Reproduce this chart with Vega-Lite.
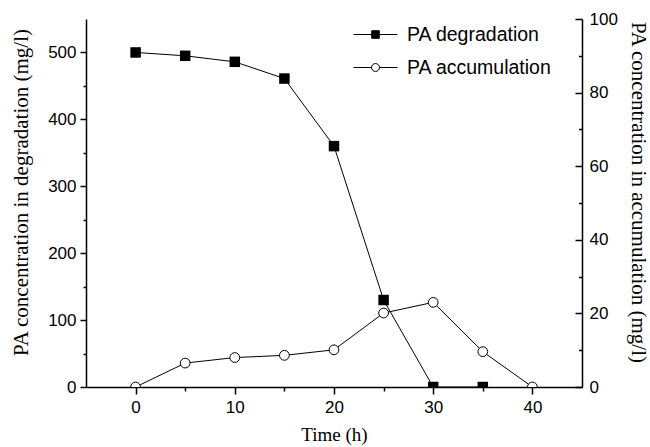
{
  "$schema": "https://vega.github.io/schema/vega-lite/v6.json",
  "width": 496,
  "height": 368,
  "autosize": {"type": "none"},
  "padding": {"left": 86, "top": 19, "right": 68, "bottom": 60},
  "background": "white",
  "config": {
    "view": {"stroke": null},
    "axis": {
      "grid": false,
      "domainColor": "black",
      "tickColor": "black",
      "labelColor": "black",
      "titleColor": "black",
      "labelFont": "Liberation Sans",
      "labelFontSize": 17,
      "titleFont": "Liberation Serif",
      "titleFontWeight": "normal",
      "domainWidth": 1.5,
      "tickWidth": 1.5
    }
  },
  "datasets": {
    "all": [
      {"series": "PA degradation", "time": 0, "value": 500},
      {"series": "PA degradation", "time": 5, "value": 495},
      {"series": "PA degradation", "time": 10, "value": 486},
      {"series": "PA degradation", "time": 15, "value": 461},
      {"series": "PA degradation", "time": 20, "value": 360},
      {"series": "PA degradation", "time": 25, "value": 130},
      {"series": "PA degradation", "time": 30, "value": 0},
      {"series": "PA degradation", "time": 35, "value": 0},
      {"series": "PA accumulation", "time": 0, "value": 0},
      {"series": "PA accumulation", "time": 5, "value": 6.5},
      {"series": "PA accumulation", "time": 10, "value": 8.0},
      {"series": "PA accumulation", "time": 15, "value": 8.6},
      {"series": "PA accumulation", "time": 20, "value": 10.1},
      {"series": "PA accumulation", "time": 25, "value": 20.1},
      {"series": "PA accumulation", "time": 30, "value": 23},
      {"series": "PA accumulation", "time": 35, "value": 9.6},
      {"series": "PA accumulation", "time": 40, "value": 0}
    ]
  },
  "data": {"name": "all"},
  "layer": [
    {
      "transform": [{"filter": "datum.series === 'PA degradation'"}],
      "encoding": {
        "x": {
          "field": "time", "type": "quantitative",
          "scale": {"domain": [-5, 45], "nice": false, "zero": false},
          "axis": {
            "orient": "bottom", "values": [0, 10, 20, 30, 40], "tickSize": 7, "labelPadding": 5,
            "title": "Time (h)", "titleFontSize": 19, "titlePadding": 10
          }
        },
        "y": {
          "field": "value", "type": "quantitative",
          "scale": {"domain": [0, 550], "nice": false},
          "axis": {
            "orient": "left", "values": [0, 100, 200, 300, 400, 500], "tickSize": 6, "labelPadding": 4,
            "title": "PA concentration in degradation (mg/l)", "titleFontSize": 21,
            "titleX": -65, "titleY": 173, "titleAngle": -90, "titleBaseline": "middle", "titleAlign": "center"
          }
        }
      },
      "layer": [
        {"mark": {"type": "line", "color": "black", "strokeWidth": 1, "clip": true}},
        {"mark": {"type": "point", "shape": "square", "filled": true, "color": "black", "opacity": 1, "size": 110, "clip": true}}
      ]
    },
    {
      "transform": [{"filter": "datum.series === 'PA accumulation'"}],
      "encoding": {
        "x": {"field": "time", "type": "quantitative", "axis": null},
        "y": {
          "field": "value", "type": "quantitative",
          "scale": {"domain": [0, 100], "nice": false},
          "axis": {
            "orient": "right", "values": [0, 20, 40, 60, 80, 100], "ticks": false, "labelPadding": 7,
            "title": "PA concentration in accumulation (mg/l)", "titleFontSize": 21,
            "titleX": 55, "titleY": 173, "titleAngle": 90, "titleBaseline": "middle", "titleAlign": "center"
          }
        }
      },
      "layer": [
        {"mark": {"type": "line", "color": "black", "strokeWidth": 1, "clip": true}},
        {"mark": {"type": "point", "shape": "circle", "filled": true, "fill": "white", "stroke": "black", "strokeWidth": 1, "opacity": 1, "size": 95, "clip": true}}
      ]
    },
    {
      "mark": {"type": "point", "filled": true, "opacity": 0, "stroke": "black", "strokeWidth": 1},
      "encoding": {
        "x": {"field": "time", "type": "quantitative",
          "axis": {"orient": "bottom", "values": [5, 15, 25, 35], "tickSize": 4, "labels": false, "domain": false, "title": null}},
        "y": {"field": "value", "type": "quantitative",
          "scale": {"domain": [0, 550], "nice": false},
          "axis": {"orient": "left", "values": [50, 150, 250, 350, 450], "tickSize": 3, "labels": false, "domain": false, "title": null}},
        "shape": {
          "field": "series", "type": "nominal",
          "scale": {"domain": ["PA degradation", "PA accumulation"],
            "range": ["M-2,0H-0.345M0.345,0H2M-0.345,-0.345H0.345V0.345H-0.345Z", "M-2,0H-0.36M0.36,0H2M-0.36,0A0.36,0.36 0 1,0 0.36,0A0.36,0.36 0 1,0 -0.36,0Z"]},
          "legend": {
            "orient": "none", "legendX": 278, "legendY": 4, "title": null, "padding": 0,
            "symbolSize": 484, "symbolOpacity": 1, "symbolStrokeColor": "black", "symbolStrokeWidth": 1,
            "labelFont": "Liberation Sans", "labelFontSize": 19.5, "labelColor": "black", "labelOffset": 20, "rowPadding": 12,
            "encode": {"symbols": {"update": {"stroke": {"value": "black"}, "strokeWidth": {"value": 1}, "opacity": {"value": 1}}}}
          }
        },
        "fill": {
          "field": "series", "type": "nominal",
          "scale": {"domain": ["PA degradation", "PA accumulation"], "range": ["black", "white"]},
          "legend": {
            "orient": "none", "legendX": 278, "legendY": 4, "title": null, "padding": 0,
            "symbolSize": 484, "symbolOpacity": 1, "symbolStrokeColor": "black", "symbolStrokeWidth": 1,
            "labelFont": "Liberation Sans", "labelFontSize": 19.5, "labelColor": "black", "labelOffset": 20, "rowPadding": 12,
            "encode": {"symbols": {"update": {"stroke": {"value": "black"}, "strokeWidth": {"value": 1}, "opacity": {"value": 1}}}}
          }
        }
      }
    },
    {
      "mark": {"type": "point", "opacity": 0},
      "encoding": {
        "x": {"field": "time", "type": "quantitative", "axis": null},
        "y": {"field": "value", "type": "quantitative",
          "scale": {"domain": [0, 100], "nice": false},
          "axis": {"orient": "right", "values": [0, 20, 40, 60, 80, 100], "tickSize": -7, "labels": false, "domain": false, "title": null}}
      }
    },
    {
      "mark": {"type": "point", "opacity": 0},
      "encoding": {
        "x": {"field": "time", "type": "quantitative", "axis": null},
        "y": {"field": "value", "type": "quantitative",
          "scale": {"domain": [0, 100], "nice": false},
          "axis": {"orient": "right", "values": [10, 30, 50, 70, 90], "tickSize": -3.5, "labels": false, "domain": false, "title": null}}
      }
    }
  ],
  "resolve": {"scale": {"y": "independent"}, "axis": {"x": "independent"}}
}
